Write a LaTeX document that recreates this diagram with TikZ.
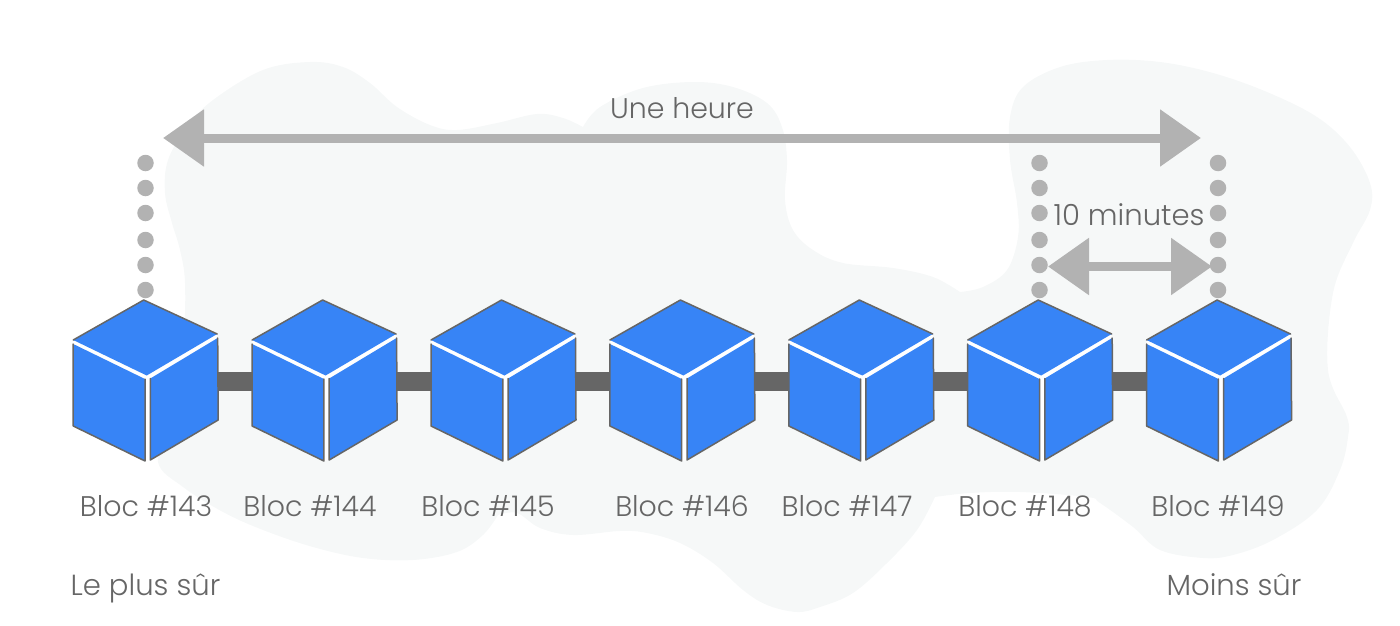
\documentclass[tikz,border=0pt]{standalone}
\usepackage{fontspec}
\setmainfont{Poppins}[UprightFont={* Light}]
\usetikzlibrary{arrows.meta}
\definecolor{blobc}{HTML}{F6F8F8}
\definecolor{cubec}{HTML}{3784F6}
\definecolor{edgec}{HTML}{666666}
\definecolor{dotc}{HTML}{B2B2B2}
\tikzset{
  edgestyle/.style={draw=edgec,line width=1.5pt,line join=round,line cap=round},
  linkstyle/.style={draw=edgec,line width=19pt},
  spanstyle/.style={draw=dotc,line width=9pt,{Triangle[length=41pt,width=55pt]}-{Triangle[length=41pt,width=55pt]}},
  dotstyle/.style={circle,fill=dotc,minimum size=16.5pt,inner sep=0pt},
  labelstyle/.style={text=edgec,font=\fontsize{28.4}{30}\selectfont,inner sep=0pt,anchor=base},
  biglabel/.style={labelstyle,font=\fontsize{29.1}{30}\selectfont},
  pics/cubeblock/.style={code={
    \fill[white] (-70.5,40) -- (0,0) -- (73.5,34) -- (74.5,120) -- (6.6,160) -- (1.3,161) -- (-70.5,126) -- cycle;
    \fill[cubec] (0,0) -- (73.5,34) -- (3,75.5) -- (-70.5,40) -- cycle;
    \draw[edgestyle] (-70.5,40) -- (0,0) -- (73.5,34);
    \fill[cubec] (-70.5,44) -- (1.3,79) -- (1.3,161) -- (-70.5,126) -- cycle;
    \draw[edgestyle] (-70.5,44) -- (-70.5,126) -- (1.3,161) -- (1.3,79);
    \fill[cubec] (6.6,78.5) -- (74,38) -- (74.5,120) -- (6.6,160) -- cycle;
    \draw[edgestyle] (6.6,78.5) -- (6.6,160) -- (74.5,120) -- (74,38);
  }}
}
\begin{document}
\begin{tikzpicture}[x=1pt,y=-1pt]
\useasboundingbox (0,0) rectangle (1400,626);
\fill[blobc]
 plot[smooth,tension=0.6] coordinates {(583,127) (600,107) (643,88) (693,82) (733,87) (767,103) (782,127) (787,160) (785,200) (793,230) (813,250) (843,263) (893,268) (933,277) (960,292)}
 -- plot[smooth,tension=0.6] coordinates {(960,292) (983,287) (1007,270) (1018,237) (1017,203) (1010,160) (1010,117) (1023,87) (1060,67) (1107,60) (1160,62) (1213,73) (1267,92) (1317,117) (1350,147) (1370,183) (1370,210) (1353,243) (1333,293) (1328,370) (1347,417) (1348,437) (1340,470) (1317,510) (1273,540) (1233,555) (1203,558) (1160,550) (1133,527) (1100,503) (1087,497) (1020,492) (970,493) (935,497)}
 -- plot[smooth,tension=0.6] coordinates {(935,497) (917,530) (887,563) (853,593) (820,607) (797,612) (767,605) (743,590) (713,563) (680,543) (647,533) (620,531) (573,535) (540,528) (517,513) (498,515)}
 -- plot[smooth,tension=0.6] coordinates {(498,515) (483,535) (457,552) (413,560) (363,558) (313,547) (263,530) (223,512) (183,487) (158,462) (170,420) (183,340) (185,283) (180,250) (172,223) (165,193) (168,160) (187,127) (213,100) (263,70) (310,62) (343,67) (370,83) (397,107) (430,125) (457,130) (497,123) (537,114) (563,118) (583,127)}
 -- cycle;
% anchors
\foreach \n/\x in {143/143.7,144/322.6,145/501.5,146/680.4,147/859.3,148/1038.2,149/1217.1}
  \coordinate (c\n) at (\x,381.5);
\foreach \a/\b in {143/144,144/145,145/146,146/147,147/148,148/149}
  \draw[linkstyle] (c\a) -- (c\b);
\foreach \n/\x in {143/143.7,144/322.6,145/501.5,146/680.4,147/859.3,148/1038.2,149/1217.1}
  \pic at (\x,300) {cubeblock};
% dots
\foreach \col/\x in {a/145.5,b/1039.5,c/1218}
  \foreach \i/\y in {1/163,2/188,3/213,4/240,5/265,6/290}
    \node[dotstyle] (d\col\i) at (\x,\y) {};
% arrows
\coordinate (hl) at (163,138);
\coordinate (hr) at (1201,138);
\coordinate (ml) at (1048,266.5);
\coordinate (mr) at (1212,266.5);
\draw[spanstyle] (hl) -- (hr);
\draw[spanstyle] (ml) -- (mr);
% labels
\node[labelstyle] (t1) at (682,118) {Une heure};
\node[biglabel] (t2) at (1129,225) {10 minutes};
\foreach \n/\x in {143/146,144/310,145/488,146/682,147/847,148/1025,149/1218}
  \node[labelstyle] (b\n) at (\x,516) {Bloc \#\n};
\node[biglabel] (s1) at (145.5,595) {Le plus sûr};
\node[biglabel] (s2) at (1234,595) {Moins sûr};
\end{tikzpicture}
\end{document}
